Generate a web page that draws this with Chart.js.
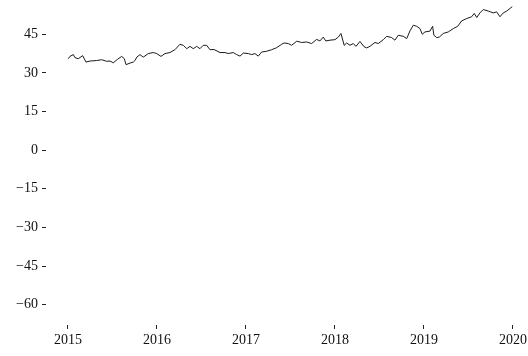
<!DOCTYPE html>
<html>
<head>
<meta charset="utf-8">
<script src="https://cdn.jsdelivr.net/npm/chart.js@4/dist/chart.umd.min.js"></script>
<style>
  html, body { margin: 0; padding: 0; background: #fff; }
</style>
</head>
<body>
<canvas id="chart" width="528" height="356"></canvas>
<script>
// dates as decimal years
var years = [
  2015.003, 2015.022, 2015.060, 2015.079, 2015.116, 2015.165, 2015.202, 2015.247, 2015.322, 2015.379,
  2015.435, 2015.472, 2015.509, 2015.554, 2015.603, 2015.633, 2015.652, 2015.697, 2015.734, 2015.753,
  2015.775, 2015.809, 2015.846, 2015.902, 2015.958, 2015.997, 2016.045, 2016.090, 2016.146, 2016.202,
  2016.258, 2016.296, 2016.334, 2016.371, 2016.408, 2016.446, 2016.483, 2016.520, 2016.558, 2016.596,
  2016.640, 2016.708, 2016.764, 2016.801, 2016.857, 2016.896, 2016.933, 2016.970, 2017.026, 2017.064,
  2017.101, 2017.138, 2017.176, 2017.233, 2017.289, 2017.345, 2017.401, 2017.427, 2017.475, 2017.513,
  2017.570, 2017.626, 2017.682, 2017.738, 2017.794, 2017.831, 2017.869, 2017.896, 2017.944, 2018.000,
  2018.037, 2018.067, 2018.104, 2018.131, 2018.169, 2018.206, 2018.236, 2018.281, 2018.326, 2018.356,
  2018.393, 2018.449, 2018.487, 2018.543, 2018.581, 2018.637, 2018.674, 2018.711, 2018.767, 2018.806,
  2018.843, 2018.880, 2018.918, 2018.955, 2018.981, 2019.011, 2019.067, 2019.097, 2019.112, 2019.143,
  2019.172, 2019.217, 2019.273, 2019.329, 2019.379, 2019.424, 2019.480, 2019.536, 2019.565, 2019.593,
  2019.629, 2019.666, 2019.722, 2019.778, 2019.817, 2019.854, 2019.891, 2019.929, 2019.966, 2019.992
];
var prices = [
  35.5, 36.4, 37.1, 35.9, 35.5, 36.7, 34.2, 34.6, 34.8, 35.1,
  34.5, 34.6, 33.9, 35.2, 36.4, 35.5, 33.2, 33.8, 34.2, 34.8,
  36.2, 37.1, 36.1, 37.5, 37.9, 37.5, 36.4, 37.5, 37.9, 39.0,
  41.1, 40.7, 39.4, 40.3, 39.4, 40.3, 39.4, 40.7, 40.7, 39.0,
  39.1, 37.9, 37.9, 37.5, 37.9, 37.1, 36.5, 37.7, 37.5, 37.1,
  37.5, 36.5, 38.1, 38.4, 39.0, 39.8, 41.1, 41.6, 41.4, 40.7,
  42.3, 41.8, 42.0, 41.4, 43.0, 42.4, 43.9, 42.4, 42.7, 42.9,
  43.9, 45.3, 40.7, 41.6, 40.7, 41.4, 40.3, 42.2, 40.2, 39.7,
  40.3, 41.8, 41.4, 42.9, 44.2, 43.7, 42.7, 44.6, 44.2, 43.3,
  46.3, 48.5, 48.1, 47.2, 45.0, 45.9, 46.2, 48.1, 44.6, 43.7,
  43.9, 45.3, 45.9, 47.2, 48.1, 50.2, 51.1, 51.8, 53.1, 51.5,
  53.3, 54.6, 54.0, 53.3, 53.7, 51.8, 53.3, 54.0, 55.0, 55.7
];
var xTicks = [2015, 2016, 2017, 2018, 2019, 2020];
var yTicks = [-60, -45, -30, -15, 0, 15, 30, 45];

var points = [];
for (var i = 0; i < years.length; i++) {
    points.push({x: years[i], y: prices[i]});
}

var tickFont = {family: "'Liberation Serif', 'DejaVu Serif', serif", size: 14};

function fmt(v) {
    return v < 0 ? '\u2212' + Math.abs(v) : String(v);
}

// drop the extra room chart.js keeps for edge labels
function noPad(scale) {
    scale.paddingTop = 0;
    scale.paddingBottom = 0;
    scale.paddingLeft = 0;
    scale.paddingRight = 0;
}

new Chart(document.getElementById('chart'), {
    type: 'line',
    data: {
        datasets: [{
            data: points,
            borderColor: '#1a1a1a',
            borderWidth: 1,
            pointRadius: 0,
            tension: 0,
            fill: false
        }]
    },
    options: {
        responsive: false,
        animation: false,
        devicePixelRatio: 1,
        layout: {padding: 0},
        plugins: {legend: {display: false}, tooltip: {enabled: false}},
        scales: {
            x: {
                type: 'linear',
                min: 2014.753,
                max: 2020.169,
                afterBuildTicks: function(scale) {
                    scale.ticks = xTicks.map(function(v) { return {value: v}; });
                },
                afterFit: function(scale) { scale.height = 31; noPad(scale); },
                border: {display: false},
                grid: {drawOnChartArea: false, drawTicks: true, tickLength: 4, color: '#222', lineWidth: 1},
                ticks: {
                    font: tickFont,
                    color: '#111',
                    padding: 3,
                    maxRotation: 0,
                    autoSkip: false,
                    callback: function(v) { return String(v); }
                }
            },
            y: {
                type: 'linear',
                min: -67.9,
                max: 58.3,
                afterBuildTicks: function(scale) {
                    scale.ticks = yTicks.map(function(v) { return {value: v}; });
                },
                afterFit: function(scale) { scale.width = 46; noPad(scale); },
                border: {display: false},
                grid: {drawOnChartArea: false, drawTicks: true, tickLength: 4, color: '#222', lineWidth: 1},
                ticks: {
                    font: tickFont,
                    color: '#111',
                    padding: 4,
                    autoSkip: false,
                    callback: function(v) { return fmt(v); }
                }
            }
        }
    }
});
</script>
</body>
</html>
